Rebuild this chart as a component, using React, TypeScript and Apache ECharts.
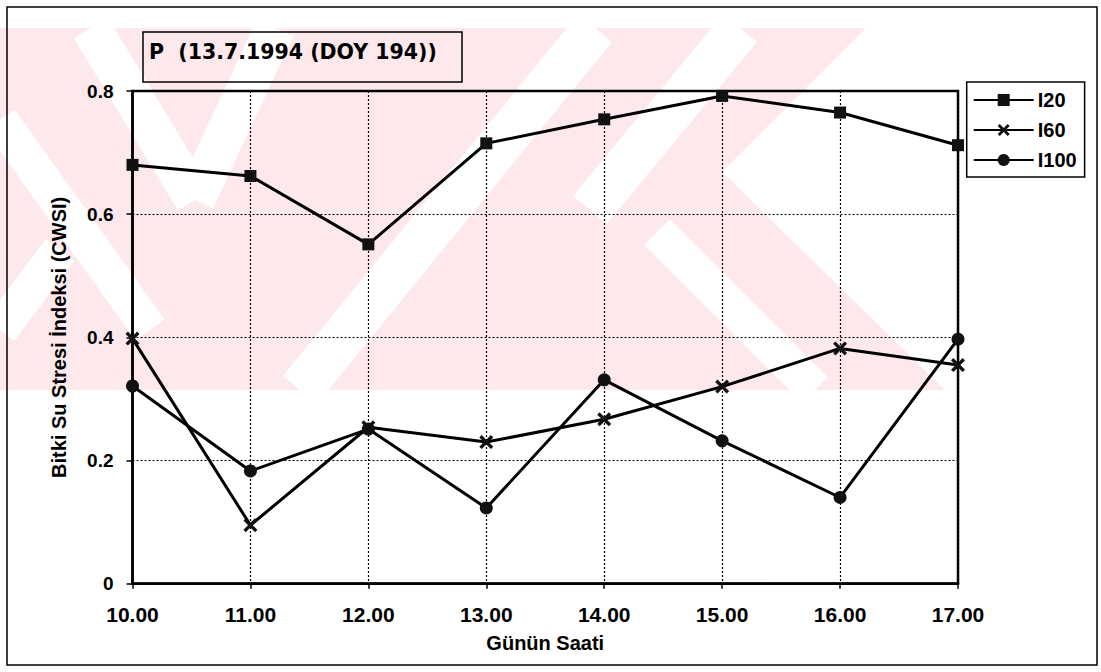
import React, { useEffect, useRef } from 'react';
import * as echarts from 'echarts';

// ---- data ----
const hours = ['10.00', '11.00', '12.00', '13.00', '14.00', '15.00', '16.00', '17.00'];
const i20 = [0.680, 0.662, 0.551, 0.715, 0.754, 0.792, 0.765, 0.712];
const i60 = [0.398, 0.095, 0.254, 0.230, 0.267, 0.320, 0.382, 0.355];
const i100 = [0.321, 0.183, 0.251, 0.123, 0.331, 0.232, 0.140, 0.397];
const seriesNames = ['I20', 'I60', 'I100'];
const yMin = 0;
const yMax = 0.8;
const yStep = 0.2;
const chartTitle = 'P  (13.7.1994 (DOY 194))';
const xName = 'Günün Saati';
const yName = 'Bitki Su Stresi İndeksi (CWSI)';

const SANS = "'Liberation Sans', Arial, Helvetica, sans-serif";
const WIDE = "'DejaVu Sans', 'Liberation Sans', Arial, sans-serif";
const CROSS = 'path://M0,1.7 L1.7,0 L5,3.3 L8.3,0 L10,1.7 L6.7,5 L10,8.3 L8.3,10 L5,6.7 L1.7,10 L0,8.3 L3.3,5 Z';

const PINK = '#fde8ec';

function band(x0: number, y0: number, x1: number, y1: number, w: number) {
  const dx = x1 - x0;
  const dy = y1 - y0;
  const len = Math.sqrt(dx * dx + dy * dy);
  const nx = (-dy / len) * (w / 2);
  const ny = (dx / len) * (w / 2);
  return {
    type: 'polygon',
    silent: true,
    z: -9,
    shape: { points: [[x0 + nx, y0 + ny], [x1 + nx, y1 + ny], [x1 - nx, y1 - ny], [x0 - nx, y0 - ny]] },
    style: { fill: '#ffffff' },
  };
}

export default function App() {
  const ref = useRef<HTMLDivElement>(null);

  useEffect(() => {
    if (!ref.current) return;
    const chart = echarts.init(ref.current, null, { renderer: 'svg' });

    const lineSeries = (name: string, data: number[], symbol: string, size: number) => ({
      name,
      type: 'line',
      data,
      symbol,
      symbolSize: size,
      lineStyle: { color: '#000', width: 3 },
      itemStyle: { color: '#111', borderColor: '#111', borderWidth: 0 },
      emphasis: { disabled: true },
      z: 5,
    });

    chart.setOption({
      animation: false,
      backgroundColor: '#ffffff',
      grid: {
        left: 132.5,
        right: 143,
        top: 91,
        bottom: 88.3,
        show: true,
        borderColor: '#000',
        borderWidth: 2.5,
        backgroundColor: 'transparent',
        containLabel: false,
      },
      legend: {
        orient: 'vertical',
        left: 966.7,
        top: 82,
        padding: [8, 8, 7, 6],
        borderColor: '#000',
        borderWidth: 1.5,
        backgroundColor: '#ffffff',
        itemWidth: 60,
        itemHeight: 15,
        itemGap: 10,
        selectedMode: false,
        data: seriesNames,
        textStyle: { color: '#000', fontFamily: SANS, fontWeight: 'bold', fontSize: 20, padding: [0, 0, 0, -1] },
      },
      xAxis: {
        type: 'category',
        data: hours,
        boundaryGap: false,
        name: xName,
        nameLocation: 'middle',
        nameGap: 49,
        nameTextStyle: { color: '#000', fontFamily: SANS, fontWeight: 'bold', fontSize: 20 },
        axisLine: { show: true, lineStyle: { color: '#000', width: 2.5 } },
        axisTick: { show: true, inside: false, length: 5, lineStyle: { color: '#000', width: 1.5 } },
        axisLabel: { color: '#000', fontFamily: SANS, fontWeight: 'bold', fontSize: 21, margin: 20 },
        splitLine: { show: true, lineStyle: { color: '#000', width: 1.2, type: [2, 2] } },
      },
      yAxis: {
        type: 'value',
        min: yMin,
        max: yMax,
        interval: yStep,
        name: yName,
        nameLocation: 'middle',
        nameRotate: 90,
        nameGap: 64,
        nameTextStyle: { color: '#000', fontFamily: SANS, fontWeight: 'bold', fontSize: 20 },
        axisLine: { show: true, lineStyle: { color: '#000', width: 2.5 } },
        axisTick: { show: true, inside: false, length: 6, lineStyle: { color: '#000', width: 1.5 } },
        axisLabel: {
          color: '#000',
          fontFamily: SANS,
          fontWeight: 'bold',
          fontSize: 19,
          margin: 19,
          formatter: (v: number) => (v === 0 ? '0' : v.toFixed(1)),
        },
        splitLine: { show: true, lineStyle: { color: '#000', width: 1.2, type: [2, 2] } },
      },
      series: [
        lineSeries(seriesNames[0], i20, 'rect', 12),
        lineSeries(seriesNames[1], i60, CROSS, 14),
        lineSeries(seriesNames[2], i100, 'circle', 13),
      ],
      graphic: [
        // watermark background
        {
          type: 'polygon',
          silent: true,
          z: -10,
          shape: { points: [[0, 28], [866, 28], [722, 172], [945, 390], [0, 390]] },
          style: { fill: PINK },
        },
        band(91, 28, 195, 200, 40),
        band(195, 200, 275, 28, 40),
        band(0, 120, 150, 330, 36),
        band(595, 28, 300, 390, 44),
        band(740, 28, 590, 210, 44),
        band(657, 232, 815, 390, 36),
        band(0, 330, 60, 250, 36),
        // outer frame
        {
          type: 'rect',
          silent: true,
          z: 20,
          shape: { x: 7, y: 7, width: 1090, height: 658 },
          style: { fill: 'transparent', stroke: '#000', lineWidth: 1.5 },
        },
        // title box
        {
          type: 'rect',
          silent: true,
          z: 20,
          shape: { x: 143, y: 32, width: 319, height: 50 },
          style: { fill: 'transparent', stroke: '#000', lineWidth: 1.5 },
        },
        {
          type: 'text',
          silent: true,
          z: 21,
          x: 149,
          y: 51.5,
          style: {
            text: chartTitle,
            fill: '#000',
            fontFamily: WIDE,
            fontWeight: 'bold',
            fontSize: 20.5,
            textAlign: 'left',
            textVerticalAlign: 'middle',
          },
        },
      ],
    });

    return () => chart.dispose();
  }, []);

  return (
    <div
      ref={ref}
      style={{ position: 'fixed', left: 0, top: 0, width: 1101, height: 672, background: '#fff' }}
    />
  );
}
